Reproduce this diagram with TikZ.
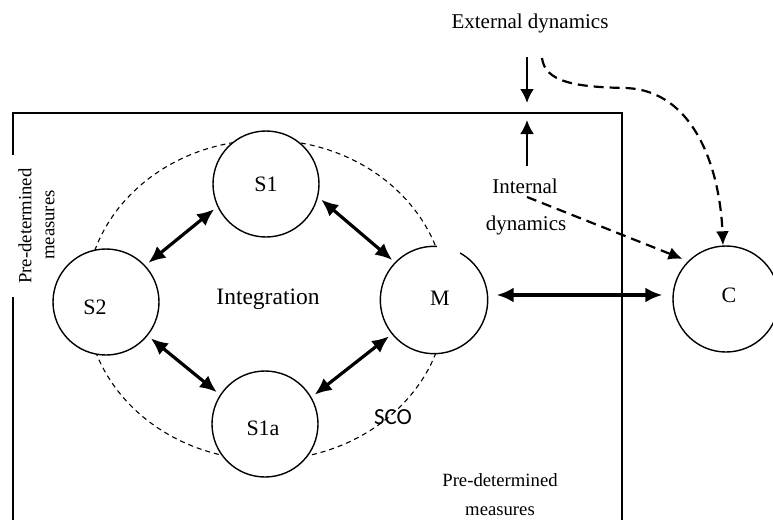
\documentclass[tikz,border=0pt]{standalone}
\usepackage{fontspec}
\setmainfont{Liberation Serif}
\newfontfamily\scofamily{Carlito}
\usetikzlibrary{arrows.meta}
\newcommand\fdyn{\fontsize{21}{25}\selectfont}
\newcommand\fcirc{\fontsize{22}{26}\selectfont}
\newcommand\fintg{\fontsize{23.5}{28}\selectfont}
\newcommand\fpre{\fontsize{18.7}{22}\selectfont}
\newcommand\fsco{\scofamily\fontsize{23}{27}\selectfont}
\begin{document}
\begin{tikzpicture}[x=1pt,y=-1pt,
  unit/.style={circle, draw, fill=white, line width=1.4pt, minimum size=106pt, inner sep=0pt},
  ringdash/.style={line width=1.1pt, dash pattern=on 5pt off 4pt},
  frame/.style={line width=1.6pt},
  link/.style={line width=3.2pt, shorten <=4pt, shorten >=4pt,
    {Latex[length=17pt,width=15pt]}-{Latex[length=17pt,width=15pt]}},
  push/.style={line width=2.4pt, -{Latex[length=14pt,width=14pt]}},
  flow/.style={line width=2.2pt, dash pattern=on 10pt off 6pt, -{Latex[length=14pt,width=13pt]}},
  txt/.style={inner sep=0pt}]
\useasboundingbox (0,0) rectangle (773,519);

% organisation frame with a break for the side label
\draw[frame] (13,155) -- (13,113) -- (622,113) -- (622,530);
\draw[frame] (13,297) -- (13,530);

% integration ring
\draw[ringdash] (266,300) ellipse [x radius=180, y radius=160];

% units
\node[unit, label={[font=\fcirc]center:S1}] (S1) at (266,184) {};
\node[unit, label={[font=\fcirc, xshift=-11pt, yshift=-5pt]center:S2}] (S2) at (106,302) {};
\node[unit, label={[font=\fcirc, xshift=-2pt, yshift=-4pt]center:S1a}] (S1a) at (265,424) {};
\node[unit, draw=none, label={[font=\fcirc, xshift=6pt, yshift=2pt]center:M}] (M) at (434,300) {};
\draw[line width=1.4pt] (M.87) arc[start angle=87, end angle=421, radius=53.7pt];
\node[unit, label={[font=\fcirc, xshift=3pt, yshift=4pt]center:C}] (C) at (726,299) {};

% texts
\node[txt, font=\fintg] (integ) at (268,299) {Integration};
\node[txt, font=\fsco] (sco) at (393,417) {SCO};
\node[txt, font=\fdyn] (ext) at (530,23) {External dynamics};
\node[txt, font=\fdyn] (int1) at (525,186) {Internal};
\node[txt, font=\fdyn] (int2) at (526,225) {dynamics};
\node[txt, font=\fpre] (preb1) at (500,480) {Pre-determined};
\node[txt, font=\fpre] (preb2) at (500,511) {measures};
\node[txt, font=\fpre, rotate=90] (prel1) at (25,226) {Pre-determined};
\node[txt, font=\fpre, rotate=90] (prel2) at (50,225) {measures};

% links between units
\draw[link] (S2.43) -- (S1.205);
\draw[link] (S1.-14) -- (M.136);
\draw[link] (S2.-39) -- (S1a.147);
\draw[link] (M.219) -- (S1a.30);
\draw[link, shorten <=9pt, shorten >=10pt] ([yshift=5pt]M.east) -- ([yshift=4pt]C.west);

% dynamics
\coordinate (extfoot) at (527,57);
\coordinate (intfoot) at (527,166);
\coordinate (boxtop) at (527,113);
\coordinate (intstart) at (527,197);
\coordinate (curvestart) at (542,58);
\draw[push, shorten >=10pt] (extfoot) -- (boxtop);
\draw[push, shorten >=7pt] (intfoot) -- (boxtop);
\draw[flow, shorten >=6pt] (intstart) -- (C.135);
\draw[flow] (curvestart) .. controls (545,82) and (575,87) .. (625,88)
  .. controls (695,90) and (720,170) .. ([xshift=-3pt]C.north);
\end{tikzpicture}
\end{document}
